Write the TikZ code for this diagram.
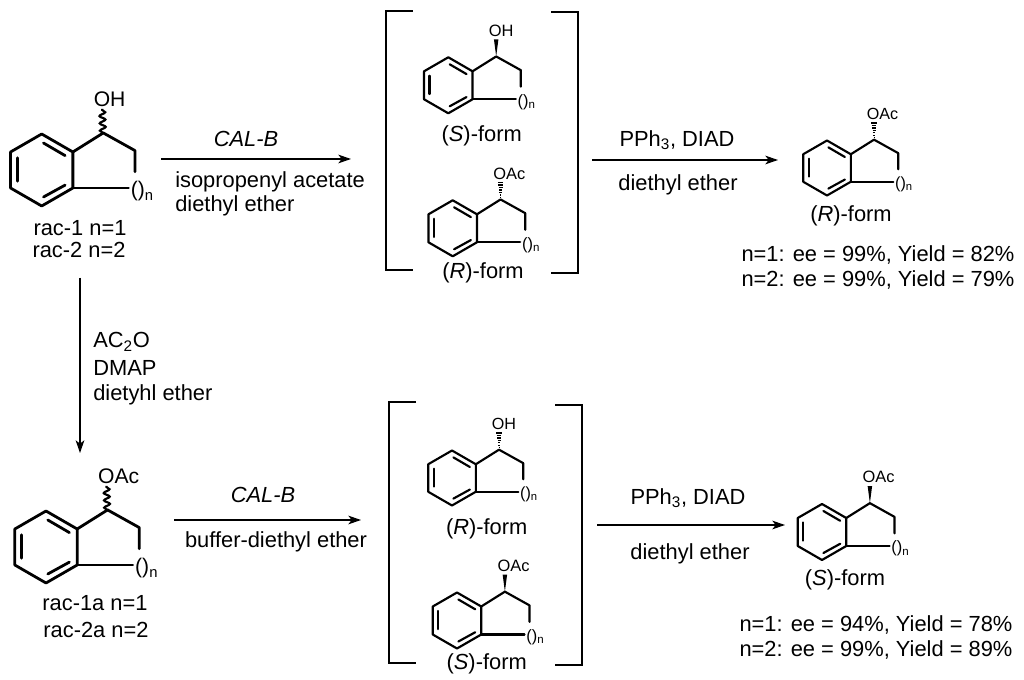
\documentclass[tikz,border=0pt]{standalone}
\usepackage{fontspec}
\setmainfont{Liberation Sans}
\usetikzlibrary{arrows.meta}
\usetikzlibrary{decorations.pathmorphing}

\tikzset{
	bond/.style={line width=#1, line cap=round, line join=round},
	brack/.style={line width=1.6pt},
	rxn/.style={-{Stealth[length=9.5pt, width=6.5pt, inset=2.5pt]}, line width=1.1pt},
	lab/.style={inner sep=0pt, font=\fontsize{16.4}{18}\selectfont}
}

% stereo bonds, all start at the ring carbon
\newcommand{\wavybond}{\draw[line width=1.6pt, decorate, decoration={snake, amplitude=2.2pt, segment length=5.5pt}] (1.7,-1.03) -- (1.68,-1.7);}
\newcommand{\wedgebond}{\fill (1.71,-1.03) -- (1.63,-1.64) -- (1.79,-1.64) -- cycle;}
\newcommand{\hashbond}{\foreach \k in {0,...,6} \draw[line width=1pt] ({1.71-0.015*\k-0.01},{-1.1-0.09*\k}) -- ({1.71+0.015*\k+0.01},{-1.1-0.09*\k});}

% #1 name, #2 #3 ring centre, #4 ring radius, #5 stereo bond, #6 substituent
\newcommand{\ringmol}[6]{
	\begin{scope}[shift={(#2,#3)}, scale=#4]
		\pgfmathsetmacro{\molw}{0.058*#4}
		\pgfmathsetmacro{\molf}{0.44*#4}
		\draw[bond=\molw pt] (0,-1) -- (0.866,-0.5) -- (0.866,0.5) -- (0,1) -- (-0.866,0.5) -- (-0.866,-0.5) -- cycle;
		\draw[bond=\molw pt] (0.05,-0.75) -- (0.65,-0.4);
		\draw[bond=\molw pt] (0.05,0.75) -- (0.65,0.42);
		\draw[bond=\molw pt] (-0.67,-0.34) -- (-0.67,0.31);
		\draw[bond=\molw pt] (0.866,-0.5) -- (1.71,-1.03) -- (2.59,-0.54) -- (2.59,0.05);
		\draw[bond=\molw pt] (0.866,0.5) -- (2.41,0.5);
		#5
		\node[inner sep=0pt, anchor=base west, font=\fontsize{\molf}{\molf}\selectfont] (#1-sub) at (1.44,-1.76) {#6};
		\node[inner sep=0pt, anchor=base west, font=\fontsize{\molf}{\molf}\selectfont] (#1-n) at (2.47,0.74) {()\textsubscript{n}};
	\end{scope}
}

\begin{document}
\begin{tikzpicture}[x=0.75pt, y=-0.75pt]
	\useasboundingbox (0,0) rectangle (1024,680);

	\ringmol{rac}{41.7}{170}{36}{\wavybond}{OH}
	\ringmol{topS}{448.3}{85.3}{28}{\wedgebond}{OH}
	\ringmol{topR}{452.7}{228.3}{28}{\hashbond}{OAc}
	\ringmol{prodR}{827}{168}{27.5}{\hashbond}{OAc}
	\ringmol{raca}{46}{547}{36}{\wavybond}{OAc}
	\ringmol{botR}{452}{478}{27.5}{\hashbond}{OH}
	\ringmol{botS}{457}{620.5}{28}{\wedgebond}{OAc}
	\ringmol{prodS}{822}{532}{28}{\wedgebond}{OAc}

	% brackets
	\draw[brack] (412.7,10.7) -- (386,10.7) -- (386,270) -- (412.7,270);
	\draw[brack] (551,12.3) -- (577.7,12.3) -- (577.7,273) -- (551,273);
	\draw[brack] (416,401.7) -- (389.3,401.7) -- (389.3,662.7) -- (416,662.7);
	\draw[brack] (555,405) -- (581.7,405) -- (581.7,665) -- (555,665);

	% arrows
	\coordinate (a1) at (161,159);
	\coordinate (b1) at (351,159);
	\coordinate (a2) at (592,160);
	\coordinate (b2) at (778,160);
	\coordinate (a3) at (80,278);
	\coordinate (c3) at (80,311);
	\coordinate (b3) at (80,453);
	\coordinate (a4) at (174,520);
	\coordinate (b4) at (361,520);
	\coordinate (a5) at (597,525);
	\coordinate (b5) at (785,525);
	\draw[rxn] (a1) -- (b1);
	\draw[rxn] (a2) -- (b2);
	\draw[rxn] (a3) -- (b3);
	\draw[line width=2pt] (a3) -- (c3);
	\draw[rxn] (a4) -- (b4);
	\draw[rxn] (a5) -- (b5);

	% compound labels
	\node[lab] (rac1) at (80,228) {rac-1 n=1};
	\node[lab] (rac2) at (79,250) {rac-2 n=2};
	\node[lab] (rac1a) at (95,603) {rac-1a n=1};
	\node[lab] (rac2a) at (96,630) {rac-2a n=2};
	\node[lab] (formS) at (481.7,136) {(\textit{S})-form};
	\node[lab] (formR) at (483,273) {(\textit{R})-form};
	\node[lab] (formP) at (851,215.5) {(\textit{R})-form};
	\node[lab] (formQ) at (486.7,528.5) {(\textit{R})-form};
	\node[lab] (formT) at (486.7,664) {(\textit{S})-form};
	\node[lab] (formU) at (845,579.5) {(\textit{S})-form};

	% conditions
	\node[lab] (cal1) at (246,139) {\textit{CAL-B}};
	\node[lab, anchor=west] (iso) at (175,182) {isopropenyl acetate};
	\node[lab, anchor=west] (eth1) at (175,205.5) {diethyl ether};
	\node[lab] (pph1) at (677,140) {PPh\textsubscript{3}, DIAD};
	\node[lab] (eth2) at (678,185) {diethyl ether};
	\node[lab, anchor=west] (ac) at (93,342) {AC\textsubscript{2}O};
	\node[lab, anchor=west] (dmap) at (93,368) {DMAP};
	\node[lab, anchor=west] (eth3) at (93,395) {dietyhl ether};
	\node[lab] (cal2) at (263,495) {\textit{CAL-B}};
	\node[lab] (buf) at (276,542) {buffer-diethyl ether};
	\node[lab] (pph2) at (688,498) {PPh\textsubscript{3}, DIAD};
	\node[lab] (eth4) at (690,554) {diethyl ether};

	% results
	\node[lab] (res1) at (878,255) {n=1: ee = 99\%, Yield = 82\%};
	\node[lab] (res2) at (878,280) {n=2: ee = 99\%, Yield = 79\%};
	\node[lab] (res3) at (876,625) {n=1: ee = 94\%, Yield = 78\%};
	\node[lab] (res4) at (876,650) {n=2: ee = 99\%, Yield = 89\%};
\end{tikzpicture}
\end{document}
